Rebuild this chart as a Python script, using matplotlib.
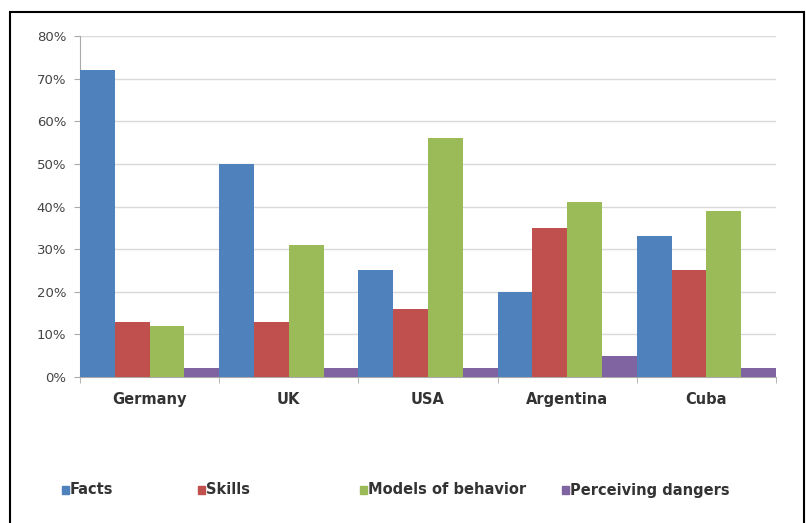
import matplotlib.pyplot as plt
from matplotlib.patches import Rectangle
import numpy as np

countries = ['Germany', 'UK', 'USA', 'Argentina', 'Cuba']
series = ['Facts', 'Skills', 'Models of behavior', 'Perceiving dangers']
facts = [72, 50, 25, 20, 33]
skills = [13, 13, 16, 35, 25]
models = [12, 31, 56, 41, 39]
dangers = [2, 2, 2, 5, 2]
colors = ['#4F81BD', '#C0504D', '#9BBB59', '#8064A2']

W, H = 806, 523
fig = plt.figure(figsize=(W / 100, H / 100), dpi=100)

# outer frame
fig.patches.append(Rectangle((10 / W, -0.01), (804 - 10) / W, 1 - 12 / H + 0.01,
                             transform=fig.transFigure, fill=False,
                             edgecolor='black', linewidth=1.5))

ax = fig.add_axes([80 / W, 1 - 377 / H, (776 - 80) / W, (377 - 36) / H])

x = np.arange(len(countries))
bw = 0.25
for i, (vals, c) in enumerate(zip([facts, skills, models, dangers], colors)):
    ax.bar(x - 0.5 + bw * i, vals, width=bw, align='edge', color=c, zorder=3)

ax.set_xlim(-0.5, len(countries) - 0.5)
ax.set_ylim(0, 80)
ax.set_yticks(range(0, 81, 10))
ax.set_yticklabels([f'{v}%' for v in range(0, 81, 10)], color='#444444', fontsize=9.5)
ax.yaxis.grid(True, color='#d9d9d9', linewidth=1, zorder=0)
ax.set_axisbelow(True)

ax.set_xticks(x)
ax.set_xticklabels(countries, fontweight='bold', color='#333333', fontsize=10.5)
ax.tick_params(axis='x', length=0, pad=11)
ax.set_xticks(np.arange(-0.5, len(countries)), minor=True)
ax.tick_params(axis='x', which='minor', length=4, color='#aaaaaa')
ax.tick_params(axis='y', length=4, color='#aaaaaa', pad=6)

for s in ['top', 'right']:
    ax.spines[s].set_visible(False)
for s in ['left', 'bottom']:
    ax.spines[s].set_color('#aaaaaa')

# legend laid out by hand
leg_x = [62, 198, 360, 562]
leg_y = 1 - 490 / H
for name, c, lx in zip(series, colors, leg_x):
    fig.patches.append(Rectangle((lx / W, leg_y - 4 / H), 7 / W, 8 / H,
                                 transform=fig.transFigure, color=c))
    fig.text((lx + 8) / W, leg_y, name, fontsize=10.5, fontweight='bold',
             color='#333333', va='center', ha='left')

fig.savefig('out.png', dpi=100)
